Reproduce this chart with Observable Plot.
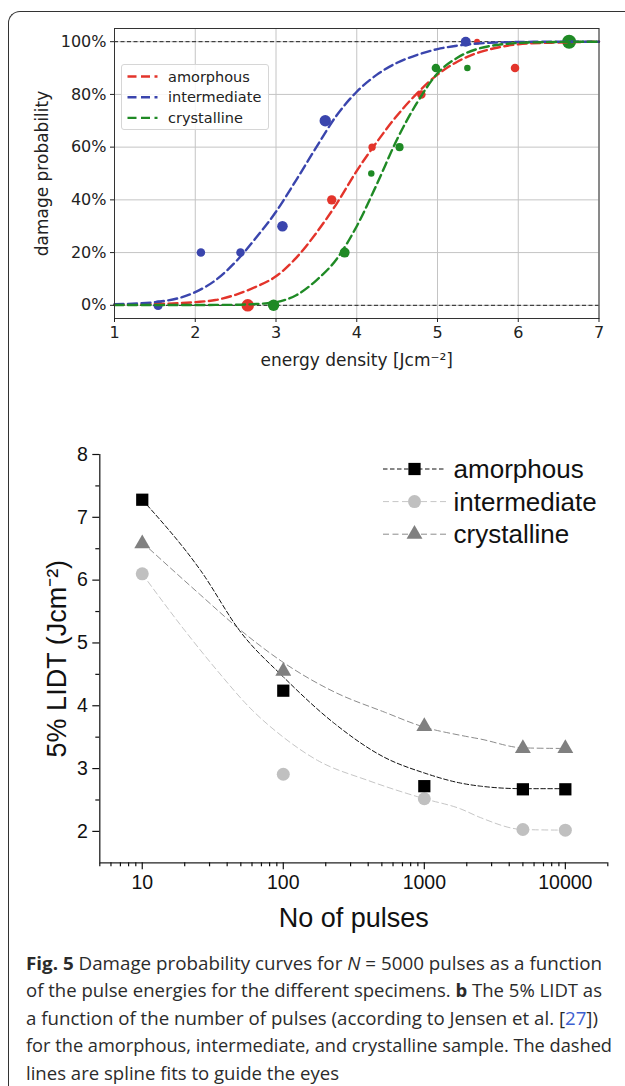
<!DOCTYPE html>
<html><head><meta charset="utf-8">
<script src="https://cdn.jsdelivr.net/npm/d3@7"></script>
<script src="https://cdn.jsdelivr.net/npm/@observablehq/plot@0.6"></script>
<style>
html,body{margin:0;padding:0;background:#fff;width:625px;height:1086px;overflow:hidden;}
#page{position:relative;width:625px;height:1086px;overflow:hidden;}
#border{position:absolute;left:8px;top:11px;width:800px;height:1200px;border-top:1.5px solid #333;border-left:1.5px solid #333;border-top-left-radius:12px;box-sizing:border-box;}
#top{position:absolute;left:0;top:0;}
#bottom{position:absolute;left:0;top:380px;}
#overlay{position:absolute;left:0;top:0;pointer-events:none;}
#legend1{position:absolute;left:121px;top:64px;width:148px;height:66px;border:1px solid #d6d6d6;border-radius:3px;background:rgba(255,255,255,0.85);box-sizing:border-box;}
</style></head>
<body><div id="page"><div id="border"></div><div id="top"></div><div id="bottom"></div><div id="legend1"></div><svg id="overlay" width="625" height="1086"></svg></div>
<script>
// ---------- data: (a) damage probability ----------
const samples = ["amorphous", "intermediate", "crystalline"];
const energyTicks = [1, 2, 3, 4, 5, 6, 7];
const probTicks = [0, 20, 40, 60, 80, 100];

const fitEnergy = [1, 1.5, 2, 2.25, 2.5, 2.75, 3, 3.25, 3.5, 3.75, 4, 4.25, 4.5, 4.75, 5, 5.25, 5.5, 5.75, 6, 6.5, 7];
const fitAmorphous = [0.2, 0.5, 1.2, 2, 4, 7, 11, 18, 27.5, 38.5, 51, 62, 72, 80.5, 87.5, 92.5, 95.8, 97.8, 99, 99.7, 100];
const fitIntermediate = [0.4, 1.2, 5, 9.5, 16.5, 25.5, 35.5, 47.5, 60, 72, 81, 87.5, 92, 95, 97.2, 98.5, 99.3, 99.7, 99.9, 100, 100];
const fitCrystalline = [0.1, 0.1, 0.1, 0.15, 0.2, 0.5, 1.2, 3.8, 9.5, 17.5, 30, 46, 63, 77, 88, 94, 97.3, 98.8, 99.5, 99.9, 100];

const amorphousEnergy = [2.65, 3.69, 4.19, 4.80, 5.49, 5.96];
const amorphousProb = [0, 40, 60, 80, 100, 90];
const amorphousWeight = [4.1, 2.3, 1.4, 1.9, 0.9, 1.9];
const intermediateEnergy = [1.54, 2.07, 2.56, 3.08, 3.61, 5.35];
const intermediateProb = [0, 20, 20, 30, 70, 100];
const intermediateWeight = [2.3, 1.9, 1.9, 2.9, 3.4, 2.6];
const crystallineEnergy = [2.97, 3.85, 4.18, 4.53, 4.98, 5.37, 6.63];
const crystallineProb = [0, 20, 50, 60, 90, 90, 100];
const crystallineWeight = [3.4, 2.6, 1.1, 1.7, 1.9, 1.1, 5.1];

// ---------- data: (b) 5% LIDT vs pulses ----------
const pulses = [10, 100, 1000, 5000, 10000];
const lidtAmorphous = [7.28, 4.24, 2.72, 2.67, 2.67];
const lidtIntermediate = [6.10, 2.91, 2.52, 2.03, 2.02];
const lidtCrystalline = [6.58, 4.55, 3.67, 3.32, 3.32];

const splineAmorphousX = [10, 26, 50, 100, 230, 520, 1000, 1800, 2500, 5000, 10000];
const splineAmorphousY = [7.28, 6.15, 5.17, 4.46, 3.72, 3.18, 2.93, 2.77, 2.72, 2.68, 2.68];
const splineIntermediateX = [10, 20, 34, 59, 100, 175, 400, 1000, 1800, 2500, 5000, 10000];
const splineIntermediateY = [6.10, 5.20, 4.56, 3.95, 3.50, 3.13, 2.81, 2.52, 2.36, 2.22, 2.03, 2.02];
const splineCrystallineX = [10, 26, 50, 100, 230, 520, 1000, 1800, 2500, 5000, 10000];
const splineCrystallineY = [6.60, 5.76, 5.20, 4.69, 4.22, 3.90, 3.66, 3.53, 3.47, 3.33, 3.32];

const pulseTicks = [10, 100, 1000, 10000];
const pulseMinor = [5, 6, 7, 8, 9, 20, 30, 40, 50, 60, 70, 80, 90, 200, 300, 400, 500, 600, 700, 800, 900, 2000, 3000, 4000, 5000, 6000, 7000, 8000, 9000, 20000];
const lidtTicks = [2, 3, 4, 5, 6, 7, 8];
const lidtMinor = [2.5, 3.5, 4.5, 5.5, 6.5, 7.5];

// ---------- build tables ----------
const fits = [fitAmorphous, fitIntermediate, fitCrystalline];
const fitRows = samples.flatMap((s, i) => fitEnergy.map((e, j) => ({sample: s, e, p: fits[i][j]})));
const ptE = [amorphousEnergy, intermediateEnergy, crystallineEnergy];
const ptP = [amorphousProb, intermediateProb, crystallineProb];
const ptW = [amorphousWeight, intermediateWeight, crystallineWeight];
const pointRows = samples.flatMap((s, i) => ptE[i].map((e, j) => ({sample: s, e, p: ptP[i][j], w: ptW[i][j]})));

const topColors = ["#e3342b", "#3a45ad", "#1f8a25"];

const topChart = Plot.plot({
  width: 625, height: 380,
  marginLeft: 114, marginRight: 26.5, marginTop: 28, marginBottom: 62,
  style: {fontFamily: "DejaVu Sans", fontSize: "16px", color: "#222", background: "transparent", overflow: "visible"},
  x: {domain: [1, 7]},
  y: {domain: [-5, 105]},
  color: {domain: samples, range: topColors},
  r: {type: "sqrt", domain: [0, 1], range: [0, 3.1], clamp: false},
  marks: [
    Plot.gridX(energyTicks, {stroke: "#c4c4c4", strokeOpacity: 1, strokeWidth: 1}),
    Plot.gridY(probTicks, {stroke: "#c4c4c4", strokeOpacity: 1, strokeWidth: 1}),
    Plot.ruleY([0, 100], {stroke: "#222", strokeWidth: 1, strokeDasharray: "4,2.5"}),
    Plot.dot(pointRows, {x: "e", y: "p", r: "w", fill: "sample"}),
    Plot.line(fitRows, {x: "e", y: "p", z: "sample", stroke: "sample", strokeWidth: 2.4, strokeDasharray: "9,4.5", curve: "monotone-x"}),
    Plot.frame({stroke: "#333", strokeWidth: 1}),
    Plot.axisX(energyTicks, {tickSize: 4, tickPadding: 4, label: null, tickFormat: d => String(d)}),
    Plot.axisY(probTicks, {tickSize: 4, tickPadding: 4, label: null, tickFormat: d => d + "%"}),
    Plot.text(["energy density [Jcm⁻²]"], {frameAnchor: "bottom", dy: 42, text: d => d, fontSize: 17, lineAnchor: "middle", textAnchor: "middle"}),
    Plot.text(["damage probability"], {frameAnchor: "left", dx: -72, rotate: -90, text: d => d, fontSize: 17, lineAnchor: "middle", textAnchor: "middle"})
  ]
});
document.getElementById("top").appendChild(topChart);

const toRows = (xs, ys) => xs.map((x, i) => ({x, y: ys[i]}));

const bottomChart = Plot.plot({
  width: 625, height: 560,
  marginLeft: 99.3, marginRight: 17.7, marginTop: 74, marginBottom: 77.7,
  style: {fontFamily: "Liberation Sans, Arial, sans-serif", fontSize: "19.5px", color: "#111", background: "transparent", overflow: "visible"},
  x: {type: "log", domain: [5, 20000]},
  y: {domain: [1.5, 8]},
  marks: [
    Plot.line(toRows(splineIntermediateX, splineIntermediateY), {x: "x", y: "y", stroke: "#c6c6c6", strokeWidth: 1, strokeDasharray: "6,3.5", curve: "monotone-x"}),
    Plot.line(toRows(splineCrystallineX, splineCrystallineY), {x: "x", y: "y", stroke: "#8c8c8c", strokeWidth: 1, strokeDasharray: "6,3.5", curve: "monotone-x"}),
    Plot.line(toRows(splineAmorphousX, splineAmorphousY), {x: "x", y: "y", stroke: "#111", strokeWidth: 1, strokeDasharray: "4.5,2.5", curve: "monotone-x"}),
    Plot.dot(toRows(pulses, lidtIntermediate), {x: "x", y: "y", symbol: "circle", r: 6.5, fill: "#c0c0c0"}),
    Plot.dot(toRows(pulses, lidtCrystalline), {x: "x", y: "y", symbol: "triangle", r: 5.9, fill: "#808080"}),
    Plot.dot(toRows(pulses, lidtAmorphous), {x: "x", y: "y", symbol: "square", r: 6.9, fill: "#000"}),
    Plot.ruleY([1.5], {stroke: "#222", strokeWidth: 1.3}),
    Plot.ruleX([5], {y1: 1.5, y2: 8, stroke: "#222", strokeWidth: 1.3}),
    Plot.axisX(pulseMinor, {tickSize: 4, tickFormat: () => "", label: null, strokeWidth: 1.2}),
    Plot.axisX(pulseTicks, {tickSize: 7, tickPadding: 5, tickFormat: d => String(d), label: null, strokeWidth: 1.2}),
    Plot.axisY(lidtMinor, {tickSize: 4, tickFormat: () => "", label: null, strokeWidth: 1.2}),
    Plot.axisY(lidtTicks, {tickSize: 7, tickPadding: 5, tickFormat: d => String(d), label: null, strokeWidth: 1.2}),
    Plot.text(["No of pulses"], {frameAnchor: "bottom", dy: 56, text: d => d, fontSize: 27, lineAnchor: "middle", textAnchor: "middle"}),
    Plot.text(["5% LIDT (Jcm⁻²)"], {frameAnchor: "left", dx: -42.3, rotate: -90, text: d => d, fontSize: 27, lineAnchor: "middle", textAnchor: "middle"})
  ]
});
document.getElementById("bottom").appendChild(bottomChart);

// ---------- legend (a) ----------
const ns = "http://www.w3.org/2000/svg";
function el(parent, tag, attrs, text) {
  const e = document.createElementNS(ns, tag);
  for (const k in attrs) e.setAttribute(k, attrs[k]);
  if (text != null) e.textContent = text;
  parent.appendChild(e);
  return e;
}
const leg1 = document.createElementNS(ns, "svg");
leg1.setAttribute("width", 148); leg1.setAttribute("height", 66);
leg1.style.position = "absolute"; leg1.style.left = "-1px"; leg1.style.top = "-1px";
document.getElementById("legend1").appendChild(leg1);
samples.forEach((s, i) => {
  const cy = 12.5 + i * 20.7;
  el(leg1, "line", {x1: 6.5, x2: 36.5, y1: cy, y2: cy, stroke: topColors[i], "stroke-width": 2.4, "stroke-dasharray": "9,4.5"});
  el(leg1, "text", {x: 47, y: cy, "dominant-baseline": "central", "font-family": "DejaVu Sans", "font-size": 14.5, fill: "#222"}, s);
});

// ---------- legend (b) ----------
const ov = document.getElementById("overlay");
const legB = [
  {stroke: "#111", dash: "4.5,2.5", fill: "#000", sym: d3.symbolSquare, size: Math.PI * 6.9 * 6.9},
  {stroke: "#c6c6c6", dash: "6,3.5", fill: "#c0c0c0", sym: d3.symbolCircle, size: Math.PI * 6.5 * 6.5},
  {stroke: "#8c8c8c", dash: "6,3.5", fill: "#808080", sym: d3.symbolTriangle, size: Math.PI * 5.9 * 5.9}
];
samples.forEach((s, i) => {
  const cy = 469 + i * 32.6;
  el(ov, "line", {x1: 383, x2: 446, y1: cy, y2: cy, stroke: legB[i].stroke, "stroke-width": 1, "stroke-dasharray": legB[i].dash});
  el(ov, "path", {d: d3.symbol(legB[i].sym, legB[i].size)(), transform: `translate(414.5,${cy})`, fill: legB[i].fill});
  el(ov, "text", {x: 453.6, y: cy, "dominant-baseline": "central", "font-family": "Liberation Sans, Arial, sans-serif", "font-size": 26, fill: "#111"}, s);
});

// ---------- caption ----------
const captionLines = [
  [["Fig. 5", "b"], [" Damage probability curves for ", ""], ["N", "i"], [" = 5000 pulses as a function", ""]],
  [["of the pulse energies for the different specimens. ", ""], ["b", "b"], [" The 5% LIDT as", ""]],
  [["a function of the number of pulses (according to Jensen et al. [", ""], ["27", "link"], ["])", ""]],
  [["for the amorphous, intermediate, and crystalline sample. The dashed", ""]],
  [["lines are spline fits to guide the eyes", ""]]
];
const captionEnds = [602, 602, 598, 612, 339];
captionLines.forEach((parts, i) => {
  const t = el(ov, "text", {x: 26, y: 969.5 + i * 27.6, "font-family": "Open Sans, sans-serif", "font-size": 18.5, fill: "#2b2b2b",
    textLength: captionEnds[i] - 26, lengthAdjust: "spacingAndGlyphs"});
  parts.forEach(([txt, st]) => {
    const sp = el(t, "tspan", {}, txt);
    if (st === "b") sp.setAttribute("font-weight", "bold");
    if (st === "i") sp.setAttribute("font-style", "italic");
    if (st === "link") sp.setAttribute("fill", "#3d5fd0");
  });
});
</script>
</body></html>
